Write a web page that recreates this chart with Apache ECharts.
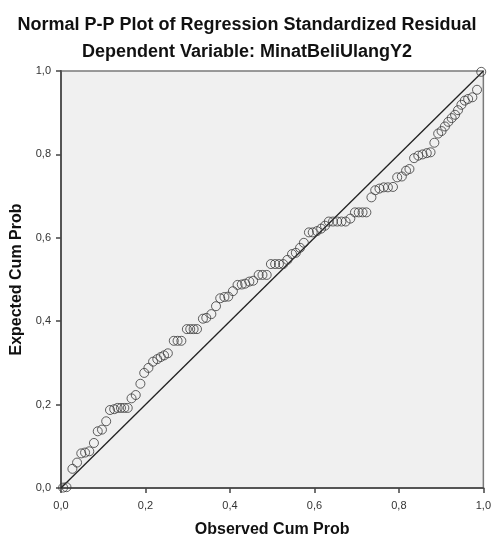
<!DOCTYPE html>
<html>
<head>
<meta charset="utf-8">
<script src="https://cdn.jsdelivr.net/npm/echarts@6/dist/echarts.min.js"></script>
<style>
html,body{margin:0;padding:0;background:#fff;}
#chart{width:494px;height:543px;}
</style>
</head>
<body>
<div id="chart"></div>
<script>
var titleText = 'Normal P-P Plot of Regression Standardized Residual';
var subtitleText = 'Dependent Variable: MinatBeliUlangY2';
var xAxisName = 'Observed Cum Prob';
var yAxisName = 'Expected Cum Prob';
var tickValues = [0, 0.2, 0.4, 0.6, 0.8, 1.0];
var tickLabels = ['0,0', '0,2', '0,4', '0,6', '0,8', '1,0'];

var observedCumProb = [
  0.005, 0.013, 0.027, 0.038, 0.048, 0.057, 0.067, 0.078, 0.087, 0.097,
  0.107, 0.116, 0.126, 0.134, 0.142, 0.150, 0.158, 0.167, 0.177, 0.188,
  0.197, 0.207, 0.218, 0.228, 0.236, 0.244, 0.253, 0.267, 0.276, 0.285,
  0.298, 0.306, 0.314, 0.322, 0.336, 0.344, 0.356, 0.367, 0.377, 0.387,
  0.396, 0.407, 0.418, 0.428, 0.436, 0.446, 0.455, 0.468, 0.477, 0.487,
  0.497, 0.507, 0.516, 0.526, 0.536, 0.547, 0.556, 0.566, 0.575, 0.587,
  0.596, 0.606, 0.616, 0.625, 0.634, 0.644, 0.654, 0.664, 0.674, 0.685,
  0.696, 0.705, 0.714, 0.723, 0.735, 0.744, 0.754, 0.764, 0.774, 0.786,
  0.796, 0.807, 0.817, 0.825, 0.836, 0.846, 0.856, 0.866, 0.875, 0.884,
  0.893, 0.901, 0.909, 0.917, 0.925, 0.933, 0.940, 0.948, 0.956, 0.964,
  0.974, 0.985, 0.995
];
var expectedCumProb = [
  0.001, 0.002, 0.046, 0.061, 0.083, 0.085, 0.088, 0.108, 0.136, 0.140,
  0.160, 0.187, 0.189, 0.192, 0.192, 0.192, 0.192, 0.215, 0.223, 0.250,
  0.276, 0.288, 0.303, 0.309, 0.314, 0.318, 0.323, 0.353, 0.353, 0.353,
  0.381, 0.381, 0.381, 0.381, 0.406, 0.408, 0.417, 0.436, 0.455, 0.458,
  0.459, 0.472, 0.487, 0.488, 0.490, 0.495, 0.497, 0.511, 0.511, 0.511,
  0.537, 0.537, 0.537, 0.537, 0.547, 0.561, 0.564, 0.576, 0.588, 0.613,
  0.613, 0.616, 0.622, 0.629, 0.639, 0.639, 0.639, 0.639, 0.639, 0.646,
  0.661, 0.661, 0.661, 0.661, 0.697, 0.714, 0.718, 0.721, 0.721, 0.722,
  0.745, 0.747, 0.761, 0.765, 0.791, 0.797, 0.800, 0.803, 0.805, 0.828,
  0.850, 0.856, 0.867, 0.878, 0.887, 0.895, 0.906, 0.919, 0.929, 0.933,
  0.937, 0.955, 0.998
];
var diagonalLine = [[0, 0], [1, 1]];

var points = observedCumProb.map(function (x, i) { return [x, expectedCumProb[i]]; });

function fmt(v) {
  var idx = tickValues.findIndex(function (t) { return Math.abs(t - v) < 1e-9; });
  return idx >= 0 ? tickLabels[idx] : '';
}

var chart = echarts.init(document.getElementById('chart'), null, {renderer: 'canvas'});
var font = 'Liberation Sans, Arial, sans-serif';
chart.setOption({
  animation: false,
  backgroundColor: '#ffffff',
  title: [
    {text: titleText, left: 'center', top: 11,
     textStyle: {fontFamily: font, fontSize: 18, fontWeight: 'bold', color: '#111'}},
    {text: subtitleText, left: 'center', top: 38,
     textStyle: {fontFamily: font, fontSize: 18, fontWeight: 'bold', color: '#111'}}
  ],
  grid: {
    left: 61, right: 9, top: 71, bottom: 50,
    show: true, backgroundColor: '#f0f0f0', borderColor: '#7a7a7a', borderWidth: 1.5
  },
  xAxis: {
    type: 'value', min: 0, max: 1, interval: 0.2,
    name: xAxisName, nameLocation: 'middle', nameGap: 34,
    nameTextStyle: {fontFamily: font, fontSize: 16, fontWeight: 'bold', color: '#111'},
    axisLine: {show: true, lineStyle: {color: '#555', width: 2}},
    axisTick: {show: true, length: 5, lineStyle: {color: '#444', width: 1.5}},
    axisLabel: {formatter: fmt, fontFamily: font, fontSize: 11, color: '#333', margin: 12},
    splitLine: {show: false}
  },
  yAxis: {
    type: 'value', min: 0, max: 1, interval: 0.2,
    name: yAxisName, nameLocation: 'middle', nameGap: 35, nameRotate: 90,
    nameTextStyle: {fontFamily: font, fontSize: 16, fontWeight: 'bold', color: '#111'},
    axisLine: {show: true, lineStyle: {color: '#555', width: 2}},
    axisTick: {show: true, length: 5, lineStyle: {color: '#444', width: 1.5}},
    axisLabel: {formatter: fmt, fontFamily: font, fontSize: 11, color: '#333', margin: 10},
    splitLine: {show: false}
  },
  series: [
    {
      type: 'line', data: diagonalLine, symbol: 'none', silent: true,
      lineStyle: {color: '#222', width: 1.3}, z: 2
    },
    {
      type: 'scatter', data: points, symbol: 'circle', symbolSize: 9,
      itemStyle: {color: 'rgba(0,0,0,0)', borderColor: '#3a3a3a', borderWidth: 1}, z: 3
    }
  ]
});
</script>
</body>
</html>
